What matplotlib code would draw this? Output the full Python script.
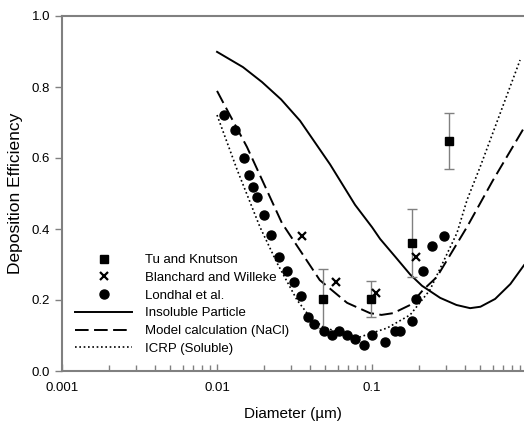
import matplotlib
matplotlib.use("Agg")
import matplotlib.pyplot as plt
from matplotlib.lines import Line2D
from matplotlib.ticker import LogLocator, NullFormatter, FixedLocator

plt.rcParams['font.family'] = ['Liberation Sans', 'DejaVu Sans']

# 資料
tu_d = [0.048, 0.099, 0.181, 0.314]
tu_eff = [0.203, 0.203, 0.360, 0.648]
tu_err = [0.083, 0.050, 0.095, 0.080]

bw_d = [0.0353, 0.0586, 0.106, 0.192]
bw_eff = [0.380, 0.251, 0.220, 0.321]

lo_d = [0.0111, 0.0131, 0.0149, 0.0161, 0.0171, 0.0181, 0.0201, 0.0223, 0.0251,
        0.0283, 0.0314, 0.0348, 0.0387, 0.0423, 0.049, 0.0552, 0.0612, 0.069,
        0.0777, 0.0888, 0.1, 0.121, 0.141, 0.152, 0.181, 0.192, 0.213, 0.244, 0.292]
lo_eff = [0.721, 0.679, 0.600, 0.552, 0.518, 0.490, 0.439, 0.383, 0.321,
          0.282, 0.251, 0.211, 0.152, 0.132, 0.113, 0.101, 0.113, 0.101,
          0.090, 0.073, 0.101, 0.082, 0.113, 0.113, 0.141, 0.203, 0.282, 0.352, 0.380]

ins_d = [0.01, 0.0147, 0.0195, 0.0259, 0.0343, 0.0536, 0.0777, 0.1, 0.1127, 0.141,
         0.176, 0.21, 0.275, 0.35, 0.429, 0.5, 0.622, 0.78, 0.955]
ins_eff = [0.899, 0.856, 0.814, 0.765, 0.705, 0.582, 0.468, 0.405, 0.372, 0.322,
           0.272, 0.240, 0.206, 0.186, 0.177, 0.181, 0.203, 0.245, 0.298]

nacl_d = [0.01, 0.0109, 0.0156, 0.0262, 0.046, 0.069, 0.097, 0.115, 0.137, 0.176,
          0.213, 0.262, 0.41, 0.6, 0.955]
nacl_eff = [0.789, 0.758, 0.631, 0.417, 0.256, 0.192, 0.163, 0.158, 0.163, 0.186,
            0.228, 0.265, 0.406, 0.536, 0.685]

icrp_d = [0.01, 0.0135, 0.0189, 0.0244, 0.0328, 0.0398, 0.0483, 0.065, 0.0837,
          0.125, 0.176, 0.236, 0.353, 0.41, 0.498, 0.901]
icrp_eff = [0.721, 0.566, 0.406, 0.304, 0.200, 0.152, 0.124, 0.105, 0.096,
            0.121, 0.158, 0.228, 0.389, 0.482, 0.575, 0.876]

fig = plt.figure(figsize=(5.24, 4.25), dpi=100)
ax = fig.add_axes([62 / 524, 1 - 371 / 425, 1 - 62 / 524, 355 / 425])

ax.plot(ins_d, ins_eff, color="black", lw=1.4)
ax.plot(nacl_d, nacl_eff, color="black", lw=1.4, dashes=(7, 2.8))
ax.plot(icrp_d, icrp_eff, color="black", lw=1.2, dashes=(1, 1.6))

ax.errorbar(tu_d, tu_eff, yerr=tu_err, fmt="none", ecolor="#808080",
            elinewidth=1.0, capsize=3.8, capthick=1.0)
ax.plot(tu_d, tu_eff, "s", color="black", ms=5.8)
ax.plot(bw_d, bw_eff, "x", color="black", ms=6, mew=1.6)
ax.plot(lo_d, lo_eff, "o", color="black", ms=6.5)

ax.set_xscale("log")
ax.set_xlim(0.001, 0.955)
ax.set_ylim(0, 1.0)
ax.xaxis.set_major_locator(FixedLocator([0.001, 0.01, 0.1]))
ax.set_xticklabels(["0.001", "0.01", "0.1"])
ax.xaxis.set_minor_locator(LogLocator(base=10, subs=range(2, 10), numticks=20))
ax.xaxis.set_minor_formatter(NullFormatter())
ax.set_yticks([0.0, 0.2, 0.4, 0.6, 0.8, 1.0])
ax.set_yticklabels(["0.0", "0.2", "0.4", "0.6", "0.8", "1.0"])

for s in ["left", "top", "bottom"]:
    ax.spines[s].set_color("#808080")
    ax.spines[s].set_linewidth(1.5)
ax.spines["right"].set_visible(False)

ax.tick_params(axis="x", which="major", direction="in", length=5, width=1,
               color="#808080", labelsize=9.5, pad=8, top=False)
ax.tick_params(axis="x", which="minor", direction="in", length=4, width=1,
               color="#808080", top=False)
ax.tick_params(axis="y", direction="out", length=5, width=1,
               color="#808080", labelsize=9.5, right=False)

ax.set_xlabel("Diameter (\u00b5m)", fontsize=11, labelpad=9)
ax.set_ylabel("Deposition Efficiency", fontsize=12.5, labelpad=6)

handles = [
    Line2D([], [], ls="none", marker="s", color="black", ms=5.8),
    Line2D([], [], ls="none", marker="x", color="black", ms=6, mew=1.6),
    Line2D([], [], ls="none", marker="o", color="black", ms=6.5),
    Line2D([], [], color="black", lw=1.4),
    Line2D([], [], color="black", lw=1.4, dashes=(7, 2.8)),
    Line2D([], [], color="black", lw=1.2, dashes=(1, 1.6)),
]
labels = ["Tu and Knutson", "Blanchard and Willeke", "Londhal et al.",
          "Insoluble Particle", "Model calculation (NaCl)", "ICRP (Soluble)"]
ax.legend(handles, labels, loc="upper left", bbox_to_anchor=(0.0, 0.367),
          frameon=False, fontsize=9.5, handlelength=4.3, handletextpad=1.0,
          labelspacing=0.42, borderaxespad=0.6)

fig.savefig("out.png", dpi=100)
